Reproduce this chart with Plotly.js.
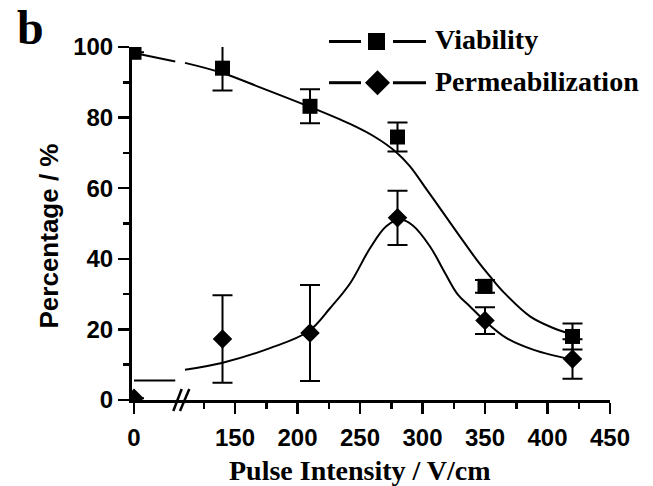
<!DOCTYPE html>
<html><head><meta charset="utf-8">
<script src="https://cdn.plot.ly/plotly-3.0.1.min.js"></script>
<style>html,body{margin:0;padding:0;background:#fff}#chart{width:653px;height:486px}</style>
</head><body><div id="chart"></div>
<script>
// ---- data ----
const pulseIntensity = [0, 140, 210, 280, 350, 420];
const viability = [98.5, 94.0, 83.2, 74.5, 32.2, 18.0];
const viabilityErr = [0, 6.3, 4.8, 4.1, 1.8, 3.7];
const permeabilization = [0.5, 17.3, 19.0, 51.6, 22.5, 11.6];
const permeabilizationErr = [0, 12.4, 13.6, 7.7, 3.8, 5.6];

// fitted curves
const viabilityFitX = [0, 33, 110, 139.4, 172.6, 208.6, 242, 262, 279, 290, 303.4, 316.6, 330, 343.4, 354, 365, 386, 404.6, 420];
const viabilityFitY = [98.3, 95.9, 95.5, 92.7, 88.2, 83.2, 78.2, 74.5, 70.2, 66.2, 59.6, 53.0, 46.3, 39.7, 35.0, 30.5, 23.7, 20.4, 18.5];
const permFitX = [0, 33, 110, 139.4, 178, 208.6, 226, 242, 258, 271, 282, 292, 306, 318, 328, 338, 349, 367, 389, 420];
const permFitY = [5.5, 5.5, 8.6, 10.5, 14.7, 19.4, 26, 33, 43, 49.2, 51.1, 49.5, 43.5, 36, 30, 26.5, 22.7, 17.6, 14.2, 11.4];

const xTickVals = [0, 150, 200, 250, 300, 350, 400, 450];
const xTickText = ['0', '150', '200', '250', '300', '350', '400', '450'];
const xMinorTickVals = [125, 175, 225, 275, 325, 375, 425];
const yTickVals = [0, 20, 40, 60, 80, 100];
const yMinorTickVals = [10, 30, 50, 70, 90];
const seriesNames = ['Viability', 'Permeabilization'];
const xTitle = 'Pulse Intensity / V/cm';
const yTitle = 'Percentage / %';
const panelLabel = 'b';

// ---- geometry ----
const W = 653, H = 486, L = 132, R = 43, T = 47, B = 86;
const plotW = W - L - R, plotH = H - T - B;
const breakPx = 180;
const split = (breakPx - L) / plotW;
const leftRange = [-1.6, 36.8];
const rightRange = [106, 450];
const px = v => (v - L) / plotW;
const py = v => (H - B - v) / plotH;

function part(xs, ys, left, err) {
  const ox = [], oy = [], oe = [];
  xs.forEach((x, i) => {
    if (left ? x <= leftRange[1] : x >= rightRange[0]) { ox.push(x); oy.push(ys[i]); if (err) oe.push(err[i]); }
  });
  return {x: ox, y: oy, e: oe};
}

const traces = [];
[true, false].forEach(left => {
  const xa = left ? 'x' : 'x2';
  const vf = part(viabilityFitX, viabilityFitY, left);
  const pf = part(permFitX, permFitY, left);
  traces.push({x: vf.x, y: vf.y, xaxis: xa, yaxis: 'y', mode: 'lines', line: {color: '#000', width: 2, shape: 'spline', smoothing: 1}, name: seriesNames[0] + ' fit', showlegend: false, hoverinfo: 'skip'});
  traces.push({x: pf.x, y: pf.y, xaxis: xa, yaxis: 'y', mode: 'lines', line: {color: '#000', width: 2, shape: 'spline', smoothing: 1}, name: seriesNames[1] + ' fit', showlegend: false, hoverinfo: 'skip'});
  const v = part(pulseIntensity, viability, left, viabilityErr);
  const p = part(pulseIntensity, permeabilization, left, permeabilizationErr);
  traces.push({x: v.x, y: v.y, xaxis: xa, yaxis: 'y', mode: 'markers', name: seriesNames[0], showlegend: false, cliponaxis: left,
    marker: {symbol: 'square', size: 15, color: '#000'},
    error_y: {type: 'data', array: v.e, visible: true, color: '#000', thickness: 2, width: 10}});
  traces.push({x: p.x, y: p.y, xaxis: xa, yaxis: 'y', mode: 'markers', name: seriesNames[1], showlegend: false, cliponaxis: left,
    marker: {symbol: 'diamond', size: 15, color: '#000'},
    error_y: {type: 'data', array: p.e, visible: true, color: '#000', thickness: 2, width: 10}});
});

const tickFont = {family: 'Liberation Sans, Arial, sans-serif', size: 24, color: '#000', weight: 700};
const axisCommon = {showline: true, linecolor: '#000', linewidth: 3, ticks: 'outside', ticklen: 11, tickwidth: 2.5, tickcolor: '#000',
  showgrid: false, zeroline: false, tickfont: tickFont, fixedrange: true, layer: 'above traces'};

const layout = {
  width: W, height: H, margin: {l: L, r: R, t: T, b: B, pad: 0},
  paper_bgcolor: '#fff', plot_bgcolor: '#fff', showlegend: false,
  xaxis: Object.assign({}, axisCommon, {domain: [0, split], range: leftRange, anchor: 'y', tickmode: 'array', ticklabelstandoff: 3,
    tickvals: xTickVals.filter(v => v <= leftRange[1]), ticktext: xTickText.filter((t, i) => xTickVals[i] <= leftRange[1])}),
  xaxis2: Object.assign({}, axisCommon, {domain: [split, 1], range: rightRange, anchor: 'y', tickmode: 'array', ticklabelstandoff: 3,
    tickvals: xTickVals.filter(v => v >= rightRange[0]), ticktext: xTickText.filter((t, i) => xTickVals[i] >= rightRange[0]),
    minor: {tickmode: 'array', tickvals: xMinorTickVals, ticks: 'outside', ticklen: 6, tickwidth: 2.5, tickcolor: '#000', showgrid: false}}),
  yaxis: Object.assign({}, axisCommon, {domain: [0, 1], range: [0, 100], anchor: 'x', tickmode: 'array', tickvals: yTickVals,
    minor: {tickmode: 'array', tickvals: yMinorTickVals, ticks: 'outside', ticklen: 6, tickwidth: 2.5, tickcolor: '#000', showgrid: false}}),
  annotations: [
    {text: panelLabel, x: px(30), y: py(0), xref: 'paper', yref: 'paper', showarrow: false, xanchor: 'center', yanchor: 'top', borderpad: 0,
      font: {family: 'Liberation Serif, Times New Roman, serif', size: 48, weight: 700, color: '#000'}},
    {text: yTitle, x: px(48), y: py(236.5), xref: 'paper', yref: 'paper', showarrow: false, textangle: -90, xanchor: 'center', yanchor: 'middle',
      font: {family: 'Liberation Sans, Arial, sans-serif', size: 26, weight: 700, color: '#000'}},
    {text: xTitle, x: px(360), y: py(471), xref: 'paper', yref: 'paper', showarrow: false, xanchor: 'center', yanchor: 'middle',
      font: {family: 'Liberation Serif, Times New Roman, serif', size: 28, weight: 700, color: '#000'}},
    {text: seriesNames[0], x: px(433), y: py(40), xref: 'paper', yref: 'paper', showarrow: false, xanchor: 'left', yanchor: 'middle',
      font: {family: 'Liberation Serif, Times New Roman, serif', size: 28, weight: 700, color: '#000'}},
    {text: seriesNames[1], x: px(433), y: py(81), xref: 'paper', yref: 'paper', showarrow: false, xanchor: 'left', yanchor: 'middle',
      font: {family: 'Liberation Serif, Times New Roman, serif', size: 28, weight: 700, color: '#000'}}
  ],
  shapes: []
};

// custom legend symbols
const rows = [41.5, 82.7];
rows.forEach((ry, i) => {
  layout.shapes.push({type: 'line', xref: 'paper', yref: 'paper', x0: px(329), x1: px(361), y0: py(ry), y1: py(ry), line: {color: '#000', width: 3}});
  layout.shapes.push({type: 'line', xref: 'paper', yref: 'paper', x0: px(393), x1: px(426), y0: py(ry), y1: py(ry), line: {color: '#000', width: 3}});
});
layout.shapes.push({type: 'rect', xref: 'paper', yref: 'paper', x0: px(368), x1: px(385), y0: py(rows[0] - 8.5), y1: py(rows[0] + 8.5), fillcolor: '#000', line: {width: 0}});
const dc = 377.5, dr = 12.5, dy = rows[1];
layout.shapes.push({type: 'path', xref: 'paper', yref: 'paper', fillcolor: '#000', line: {width: 0},
  path: `M${px(dc)},${py(dy - dr)} L${px(dc + dr)},${py(dy)} L${px(dc)},${py(dy + dr)} L${px(dc - dr)},${py(dy)} Z`});
// axis break marks
layout.shapes.push({type: 'line', xref: 'paper', yref: 'paper', x0: px(173.3), y0: py(411), x1: px(181.7), y1: py(389), line: {color: '#000', width: 2.5}});
layout.shapes.push({type: 'line', xref: 'paper', yref: 'paper', x0: px(180), y0: py(411), x1: px(189.3), y1: py(389), line: {color: '#000', width: 2.5}});

Plotly.newPlot('chart', traces, layout, {displayModeBar: false, staticPlot: true});
</script>
</body></html>
